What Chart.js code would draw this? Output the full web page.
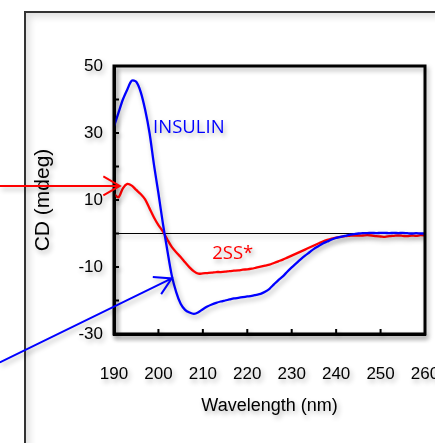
<!DOCTYPE html>
<html>
<head>
<meta charset="utf-8">
<script src="https://cdn.jsdelivr.net/npm/chart.js@4.4.1/dist/chart.umd.min.js"></script>
<style>
  html, body { margin: 0; padding: 0; background: #fff; }
  body { width: 435px; height: 443px; position: relative; overflow: hidden; }
  .frame {
    position: absolute; left: 24px; top: 11px; width: 500px; height: 500px;
    border-top: 2px solid #333; border-left: 2px solid #333;
    box-shadow: inset 4px 4px 7px rgba(0,0,0,.12);
  }
  #cd-chart { position: absolute; left: 0; top: 0; z-index: 1; }
</style>
</head>
<body>
<div class="frame"></div>
<canvas id="cd-chart" width="435" height="443"></canvas>
<script>
// ── Data ────────────────────────────────────────────────────────
const wavelengths = [];
for (let nm = 190; nm <= 260; nm++) wavelengths.push(nm);

const insulin = [
  32, 36, 40, 43, 45.6, 45.3, 42.3, 37, 30, 20.5,          // 190-199
  12, 3, -5, -12.5, -17.5, -21, -22.8, -23.6, -24, -23.5,   // 200-209
  -22.6, -21.8, -21.2, -20.7, -20.3, -20, -19.7, -19.4, -19.2, -19, // 210-219
  -18.8, -18.6, -18.3, -18, -17.4, -16.5, -15.2, -13.9, -12.8, -11.4, // 220-229
  -10.1, -8.9, -7.7, -6.6, -5.6, -4.6, -3.8, -3.0, -2.4, -1.8, // 230-239
  -1.3, -1, -0.7, -0.4, -0.2, 0, 0.1, 0.1, 0.2, 0.1,        // 240-249
  0.2, 0.2, 0.1, 0.2, 0.1, 0.2, 0.1, 0, 0.1, 0,             // 250-259
  0                                                          // 260
];

const ss2 = [
  11.8, 10.8, 13.5, 14.8, 14.3, 13, 11.8, 10.2, 7.5, 4.8,   // 190-199
  2.5, 0.6, -1.8, -4, -5.6, -7, -8.6, -10.1, -11.3, -12,    // 200-209
  -11.9, -11.8, -11.7, -11.5, -11.5, -11.4, -11.2, -11.1, -11, -10.8, // 210-219
  -10.7, -10.5, -10.2, -9.9, -9.6, -9.3, -8.8, -8.3, -7.8, -7.2, // 220-229
  -6.6, -6, -5.4, -4.8, -4.2, -3.6, -3, -2.4, -1.9, -1.5,   // 230-239
  -1.2, -1, -0.8, -0.7, -0.6, -0.6, -0.6, -0.5, -0.6, -0.8, // 240-249
  -0.9, -1, -0.8, -0.7, -0.6, -0.7, -0.8, -0.6, -0.7, -0.5, // 250-259
  -0.6                                                       // 260
];

const xTicks = [190, 200, 210, 220, 230, 240, 250, 260];
const yLabelTicks = [-30, -10, 10, 30, 50];

// annotations, in data units
const curveLabels = [
  { text: 'INSULIN', x: 198.8, y: 31.6, color: '#0000ff' },
  { text: '2SS*', x: 212.1, y: -6.1, color: '#ff0000' }
];
const arrows = [
  { from: [164.3, 14.2], to: [191.3, 14.2], color: '#ff0000' },
  { from: [164.3, -38.5], to: [203, -13.4], color: '#0000ff' }
];

const AXIS_FONT = 'Liberation Sans, Arial, sans-serif';

// ── Plugins ─────────────────────────────────────────────────────
const softShadow = {
  id: 'softShadow',
  beforeDraw(chart) {
    const ctx = chart.ctx;
    ctx.shadowColor = 'rgba(0,0,0,.3)';
    ctx.shadowBlur = 5;
    ctx.shadowOffsetX = 2;
    ctx.shadowOffsetY = 3;
  }
};

const frameAndTicks = {
  id: 'frameAndTicks',
  afterDraw(chart) {
    const { ctx, chartArea: a, scales: { x, y } } = chart;
    ctx.save();
    ctx.strokeStyle = '#000';
    ctx.lineWidth = 3;
    ctx.strokeRect(a.left, a.top, a.right - a.left, a.bottom - a.top);
    // inward tick marks
    ctx.lineWidth = 2;
    ctx.beginPath();
    x.ticks.forEach(t => {
      if (t.value <= x.min || t.value >= x.max) return;
      const px = x.getPixelForValue(t.value);
      ctx.moveTo(px, a.bottom);
      ctx.lineTo(px, a.bottom - 5);
    });
    y.ticks.forEach(t => {
      if (t.value <= y.min || t.value >= y.max) return;
      const py = y.getPixelForValue(t.value);
      ctx.moveTo(a.left, py);
      ctx.lineTo(a.left + 5, py);
    });
    ctx.stroke();
    ctx.restore();
  }
};

const annotations = {
  id: 'annotations',
  afterDraw(chart) {
    const { ctx, scales: { x, y } } = chart;
    ctx.save();
    ctx.font = '18.5px "Open Sans", sans-serif';
    ctx.textAlign = 'left';
    ctx.textBaseline = 'middle';
    curveLabels.forEach(l => {
      ctx.fillStyle = l.color;
      ctx.fillText(l.text, x.getPixelForValue(l.x), y.getPixelForValue(l.y));
    });

    ctx.lineWidth = 2;
    arrows.forEach(ar => {
      const x0 = x.getPixelForValue(ar.from[0]), y0 = y.getPixelForValue(ar.from[1]);
      const x1 = x.getPixelForValue(ar.to[0]), y1 = y.getPixelForValue(ar.to[1]);
      const ang = Math.atan2(y1 - y0, x1 - x0);
      const head = 19, spread = Math.PI / 6;
      ctx.strokeStyle = ar.color;
      ctx.beginPath();
      ctx.moveTo(x0, y0);
      ctx.lineTo(x1, y1);
      ctx.moveTo(x1 - head * Math.cos(ang - spread), y1 - head * Math.sin(ang - spread));
      ctx.lineTo(x1, y1);
      ctx.lineTo(x1 - head * Math.cos(ang + spread), y1 - head * Math.sin(ang + spread));
      ctx.stroke();
    });
    ctx.restore();
  }
};

// ── Chart ───────────────────────────────────────────────────────
new Chart(document.getElementById('cd-chart'), {
  type: 'line',
  data: {
    labels: wavelengths,
    datasets: [
      { label: 'INSULIN', data: insulin, borderColor: '#0000ff', borderWidth: 2.3, pointRadius: 0, tension: 0.3, fill: false },
      { label: '2SS*', data: ss2, borderColor: '#ff0000', borderWidth: 2.3, pointRadius: 0, tension: 0.3, fill: false }
    ]
  },
  options: {
    responsive: false,
    animation: false,
    layout: { padding: { top: 66, right: 10, left: 0, bottom: 0 } },
    plugins: { legend: { display: false }, tooltip: { enabled: false } },
    scales: {
      x: {
        type: 'linear', min: 190, max: 260,
        afterBuildTicks: s => { s.ticks = xTicks.map(v => ({ value: v })); },
        // fixed box; let the last tick label run off the edge like the original
        afterFit: s => { s.height = 109; s.paddingLeft = 0; s.paddingRight = 0; },
        grid: { display: false },
        border: { display: true, width: 3, color: '#000' },
        ticks: { font: { size: 17, family: AXIS_FONT }, color: '#000', padding: 22, maxRotation: 0 },
        title: { display: true, text: 'Wavelength (nm)', color: '#000', font: { size: 18, family: AXIS_FONT }, padding: { top: 0, bottom: 26 } }
      },
      y: {
        min: -30, max: 50,
        ticks: {
          stepSize: 10, font: { size: 17, family: AXIS_FONT }, color: '#000', padding: 11,
          callback: v => yLabelTicks.includes(v) ? v : ''
        },
        afterFit: s => { s.width = 114; s.paddingTop = 0; s.paddingBottom = 0; },
        grid: {
          drawTicks: false, lineWidth: 1,
          color: c => c.tick && c.tick.value === 0 ? '#000' : 'rgba(0,0,0,0)'
        },
        border: { display: true, width: 3, color: '#000' },
        title: { display: true, text: 'CD (mdeg)', color: '#000', font: { size: 21, family: AXIS_FONT }, padding: { top: 31, bottom: 0 } }
      }
    }
  },
  plugins: [softShadow, frameAndTicks, annotations]
});
</script>
</body>
</html>
